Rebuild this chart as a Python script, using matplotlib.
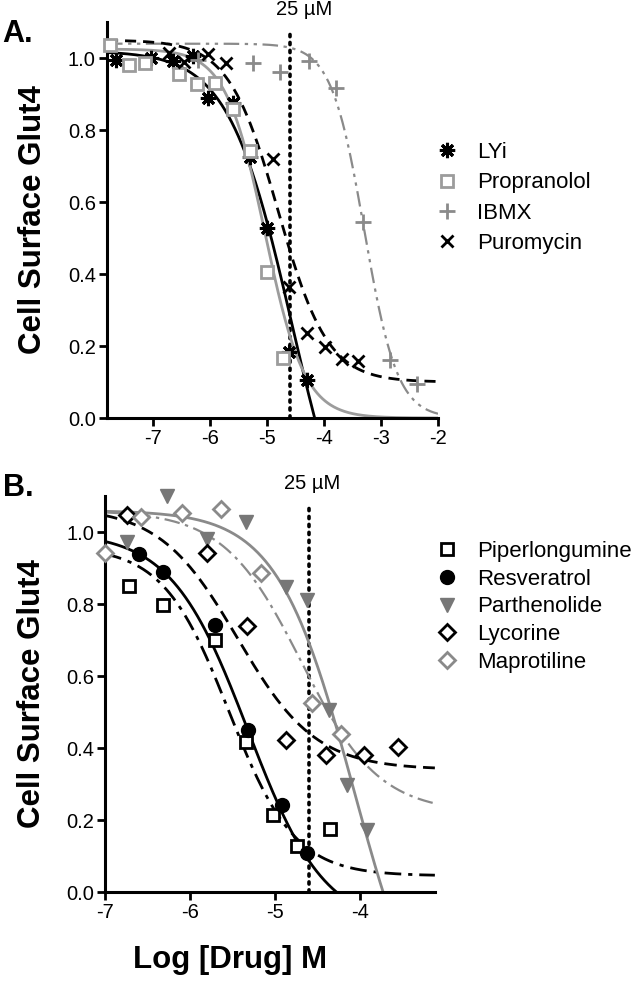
import numpy as np
import matplotlib
matplotlib.use("Agg")
import matplotlib.pyplot as plt

plt.rcParams["font.family"] = ["Liberation Sans", "DejaVu Sans"]

# ---- panel A data (log M, cell surface Glut4) ----
a_lyi_x = [-7.64, -7.02, -6.64, -6.29, -6.03, -5.60, -5.30, -5.00, -4.61, -4.30]
a_lyi_y = [0.996, 1.000, 0.993, 1.006, 0.890, 0.876, 0.726, 0.528, 0.184, 0.105]
a_prop_x = [-7.74, -7.42, -7.14, -6.54, -6.23, -5.91, -5.60, -5.30, -5.00, -4.72]
a_prop_y = [1.036, 0.982, 0.987, 0.955, 0.927, 0.932, 0.858, 0.742, 0.405, 0.168]
a_ibmx_x = [-6.21, -5.24, -4.76, -4.26, -3.78, -3.31, -2.84, -2.36]
a_ibmx_y = [0.996, 0.987, 0.962, 0.993, 0.918, 0.544, 0.161, 0.094]
a_puro_x = [-6.71, -6.45, -6.03, -5.71, -4.90, -4.61, -4.30, -3.98, -3.69, -3.40]
a_puro_y = [1.015, 0.990, 1.010, 0.987, 0.719, 0.364, 0.236, 0.198, 0.165, 0.159]

# ---- panel B data ----
b_pip_x = [-6.72, -6.32, -5.71, -5.34, -5.03, -4.74, -4.35]
b_pip_y = [0.850, 0.797, 0.700, 0.417, 0.213, 0.128, 0.176]
b_res_x = [-6.60, -6.32, -5.71, -5.32, -4.92, -4.63]
b_res_y = [0.939, 0.890, 0.741, 0.449, 0.241, 0.107]
b_par_x = [-6.74, -6.27, -5.80, -5.34, -4.87, -4.62, -4.37, -4.15, -3.92]
b_par_y = [0.973, 1.100, 0.982, 1.029, 0.848, 0.811, 0.505, 0.297, 0.171]
b_lyc_x = [-6.74, -5.80, -5.33, -4.87, -4.40, -3.95, -3.55]
b_lyc_y = [1.047, 0.941, 0.740, 0.422, 0.380, 0.380, 0.403]
b_map_x = [-7.00, -6.58, -6.10, -5.64, -5.16, -4.57, -4.22]
b_map_y = [0.941, 1.041, 1.052, 1.063, 0.885, 0.525, 0.438]

# fitted 4PL curves: top, bottom, logIC50, hill
a_fits = {"LYi": (1.02, -0.5, -4.558, 0.78),
          "Propranolol": (1.025, 0.0, -5.03, 1.25),
          "IBMX": (1.04, 0.0, -3.29, 1.5),
          "Puromycin": (1.05, 0.10, -4.8, 1.0)}
b_fits = {"Piperlongumine": (0.96, 0.045, -5.544, 1.12),
          "Resveratrol": (1.0, -0.1, -5.32, 0.96),
          "Parthenolide": (1.06, -0.5, -4.069, 0.961),
          "Lycorine": (1.07, 0.34, -5.442, 0.943),
          "Maprotiline": (1.06, 0.22, -4.692, 0.95)}

LOG_25UM = np.log10(25e-6)
GRAY = "#8a8a8a"
LGRAY = "#9c9c9c"


def four_pl(x, top, bottom, logic50, hill):
    return bottom + (top - bottom) / (1 + 10 ** ((x - logic50) * hill))


def style_axes(ax, xlim, xticks):
    ax.set_xlim(*xlim)
    ax.set_ylim(0, 1.1)
    for s in ("top", "right"):
        ax.spines[s].set_visible(False)
    for s in ("left", "bottom"):
        ax.spines[s].set_linewidth(2.2)
    ax.set_xticks(xticks)
    ax.set_xticklabels([str(t) for t in xticks])
    ax.set_yticks(np.arange(0, 1.01, 0.2))
    ax.set_yticklabels([f"{v:.1f}" for v in np.arange(0, 1.01, 0.2)])
    ax.tick_params(width=2, length=6, labelsize=14.5, pad=2)
    ax.plot([LOG_25UM, LOG_25UM], [0, 1.08], color="k", ls=(0, (0.6, 1.6)),
            lw=2.6, dash_capstyle="round", zorder=1, clip_on=False)
    ax.set_ylabel("Cell Surface Glut4", fontsize=22.5, fontweight="bold", va="center")
    ax.yaxis.set_label_coords(-0.222, 0.5)


fig = plt.figure(figsize=(6.33, 9.85), dpi=100)
axA = fig.add_axes([0.169, 0.5756, 0.523, 0.402])
axB = fig.add_axes([0.166, 0.0944, 0.521, 0.402])

leg_kw = dict(loc="upper left", bbox_transform=fig.transFigure, frameon=False,
              fontsize=16, handlelength=1.0, handletextpad=0.85,
              borderpad=0, borderaxespad=0)

# ---------------- panel A ----------------
xa = np.linspace(-7.8, -2.0, 500)
style_axes(axA, (-7.8, -2.0), [-7, -6, -5, -4, -3, -2])
axA.plot(xa, four_pl(xa, *a_fits["LYi"]), color="k", lw=2)
axA.plot(xa, four_pl(xa, *a_fits["Propranolol"]), color=LGRAY, lw=2)
axA.plot(xa, four_pl(xa, *a_fits["IBMX"]), color=GRAY, lw=1.6,
         ls=(0, (7, 2.5, 1.5, 2.5, 1.5, 2.5)))
axA.plot(xa, four_pl(xa, *a_fits["Puromycin"]), color="k", lw=2, ls=(0, (4, 2.5)))

mk = dict(ls="none", clip_on=False, zorder=3)
axA.plot(a_lyi_x, a_lyi_y, marker=(8, 2, 0), ms=11, mew=2.2, color="k", label="LYi", **mk)
axA.plot(a_prop_x, a_prop_y, marker="s", ms=9, mew=2, mfc="white", mec=LGRAY,
         label="Propranolol", **mk)
axA.plot(a_ibmx_x, a_ibmx_y, marker="+", ms=12, mew=2, color=GRAY, label="IBMX", **mk)
axA.plot(a_puro_x, a_puro_y, marker="x", ms=9, mew=2, color="k", label="Puromycin", **mk)
axA.legend(bbox_to_anchor=(0.689, 1 - 142 / 985), labelspacing=0.42, **leg_kw)
axA.annotate("25 µM", (-4.35, 1.1), xytext=(0, 9), textcoords="offset points",
             ha="center", va="center", fontsize=14.5, annotation_clip=False)

# ---------------- panel B ----------------
xb = np.linspace(-7.0, -3.12, 500)
style_axes(axB, (-7.0, -3.12), [-7, -6, -5, -4])
axB.plot(xb, four_pl(xb, *b_fits["Piperlongumine"]), color="k", lw=2,
         ls=(0, (6, 2.5, 1.5, 2.5)))
axB.plot(xb, four_pl(xb, *b_fits["Resveratrol"]), color="k", lw=2)
axB.plot(xb, four_pl(xb, *b_fits["Parthenolide"]), color=GRAY, lw=2)
axB.plot(xb, four_pl(xb, *b_fits["Lycorine"]), color="k", lw=2, ls=(0, (4.5, 2.5)))
axB.plot(xb, four_pl(xb, *b_fits["Maprotiline"]), color=GRAY, lw=1.6,
         ls=(0, (7, 2.5, 1.5, 2.5)))

axB.plot(b_pip_x, b_pip_y, marker="s", ms=9, mew=2, mfc="white", mec="k",
         label="Piperlongumine", **mk)
axB.plot(b_res_x, b_res_y, marker="o", ms=10, color="k", label="Resveratrol", **mk)
axB.plot(b_par_x, b_par_y, marker="v", ms=10, color="#777777", label="Parthenolide", **mk)
axB.plot(b_lyc_x, b_lyc_y, marker="D", ms=8.5, mew=2, mfc="white", mec="k",
         label="Lycorine", **mk)
axB.plot(b_map_x, b_map_y, marker="D", ms=8.5, mew=2, mfc="white", mec=GRAY,
         label="Maprotiline", **mk)
axB.legend(bbox_to_anchor=(0.689, 1 - 541 / 985), labelspacing=0.3, **leg_kw)
axB.annotate("25 µM", (-4.56, 1.1), xytext=(0, 9), textcoords="offset points",
             ha="center", va="center", fontsize=14.5, annotation_clip=False)

fig.text(230 / 633, 1 - 960 / 985, "Log [Drug] M", ha="center", va="center",
         fontsize=22.5, fontweight="bold")
fig.text(18 / 633, 1 - 34 / 985, "A.", ha="center", va="center", fontsize=22,
         fontweight="bold")
fig.text(18 / 633, 1 - 488 / 985, "B.", ha="center", va="center", fontsize=22,
         fontweight="bold")

fig.savefig("out.png", dpi=100)
